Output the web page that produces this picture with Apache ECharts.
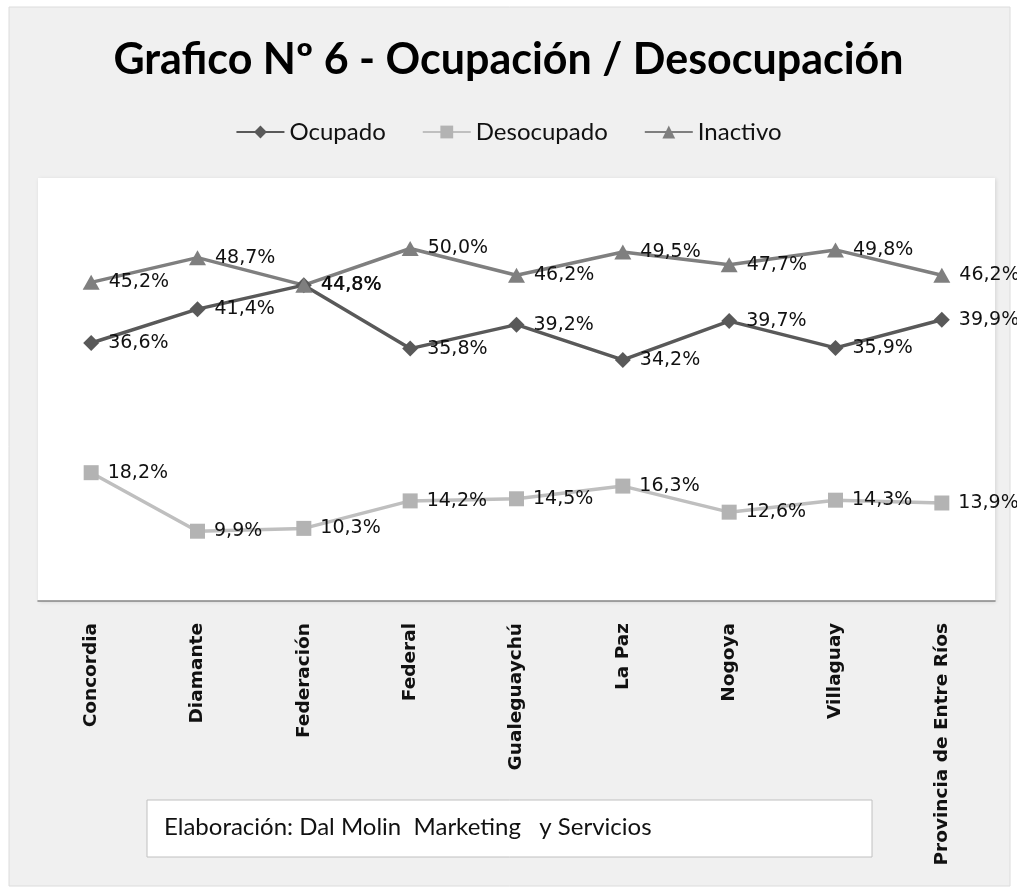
<!DOCTYPE html>
<html><head><meta charset="utf-8">
<script src="https://cdn.jsdelivr.net/npm/echarts@6/dist/echarts.min.js"></script>
<style>html,body{margin:0;padding:0;background:#fff}#c{width:1017px;height:891px}</style>
</head><body><div id="c"></div>
<script>
const categories = ['Concordia','Diamante','Federación','Federal','Gualeguaychú','La Paz','Nogoya','Villaguay','Provincia de Entre Ríos'];
const ocupado = [36.6, 41.4, 44.8, 35.8, 39.2, 34.2, 39.7, 35.9, 39.9];
const desocupado = [18.2, 9.9, 10.3, 14.2, 14.5, 16.3, 12.6, 14.3, 13.9];
const inactivo = [45.2, 48.7, 44.8, 50.0, 46.2, 49.5, 47.7, 49.8, 46.2];
const seriesNames = ['Ocupado','Desocupado','Inactivo'];
const titleText = 'Grafico Nº 6 - Ocupación / Desocupación';
const footerText = 'Elaboración: Dal Molin  Marketing   y Servicios';

const fmt = p => p.value.toFixed(1).replace('.', ',') + '%';
const labelStyle = {show:true, position:'right', distance:9, formatter:fmt,
  fontFamily:'DejaVu Sans', fontSize:19, color:'#111'};

const chart = echarts.init(document.getElementById('c'), null, {renderer:'canvas'});
chart.setOption({
  backgroundColor:'#ffffff',
  animation:false,
  graphic:[
    {type:'rect', z:-10, shape:{x:9, y:7, width:1001, height:879},
     style:{fill:'#f0f0f0', stroke:'#dcdcdc', lineWidth:1}},
    {type:'rect', z:10, shape:{x:147, y:800, width:725, height:57},
     style:{fill:'#ffffff', stroke:'#c0c0c0', lineWidth:1}},
    {type:'text', z:11, left:164, top:815,
     style:{text:footerText, font:'24px Lato', fill:'#111'}},
    {type:'text', z:5, left:'center', top:39,
     style:{text:titleText, font:'bold 43px Lato', fill:'#000', x:7}}
  ],
  legend:{top:115, left:'center', itemWidth:48, itemHeight:16, itemGap:36,
    textStyle:{fontFamily:'Lato', fontSize:24, color:'#111'},
    data:seriesNames},
  grid:{left:38, right:22, top:178, bottom:290, show:true,
    backgroundColor:'#ffffff', borderWidth:0,
    shadowBlur:4, shadowColor:'rgba(0,0,0,0.12)', shadowOffsetX:1, shadowOffsetY:1},
  xAxis:{type:'category', data:categories, boundaryGap:true,
    axisLine:{show:true, lineStyle:{color:'#868686', width:1.5}},
    axisTick:{show:false},
    axisLabel:{rotate:90, margin:22, fontFamily:'DejaVu Sans', fontSize:18.5, fontWeight:'bold', color:'#111', interval:0},
    splitLine:{show:false}},
  yAxis:{type:'value', min:0, max:60, show:false, splitLine:{show:false}},
  series:[
    {name:seriesNames[0], type:'line', data:ocupado, symbol:'diamond', symbolSize:[16,16],
     lineStyle:{color:'#595959', width:3.5}, itemStyle:{color:'#595959'}, label:labelStyle},
    {name:seriesNames[1], type:'line', data:desocupado, symbol:'rect', symbolSize:[15,15],
     lineStyle:{color:'#bfbfbf', width:3.5}, itemStyle:{color:'#b3b3b3'}, label:labelStyle},
    {name:seriesNames[2], type:'line', data:inactivo, symbol:'triangle', symbolSize:[17,15],
     lineStyle:{color:'#7f7f7f', width:3.5}, itemStyle:{color:'#7f7f7f'}, label:labelStyle}
  ]
});
</script></body></html>
